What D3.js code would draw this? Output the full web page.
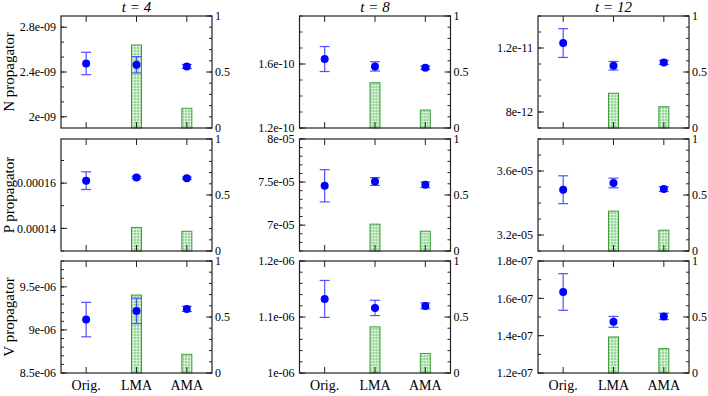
<!DOCTYPE html>
<html>
<head>
<meta charset="utf-8">
<script src="https://d3js.org/d3.v7.min.js"></script>
<style>
body { margin: 0; background: #fff; }
text { font-family: "Liberation Serif", "Times New Roman", serif; fill: #000; }
</style>
</head>
<body>
<div id="viz"></div>
<script>
var methods = ["Orig.", "LMA", "AMA"];
var times = [4, 8, 12];
var channels = ["N", "P", "V"];

// mean and error, one row per t (4, 8, 12)
var meanN = [[2.476e-9, 2.464e-9, 2.449e-9], [1.631e-10, 1.585e-10, 1.577e-10], [1.231e-11, 1.089e-11, 1.110e-11]];
var errN  = [[0.100e-9, 0.073e-9, 0.018e-9], [0.078e-10, 0.029e-10, 0.010e-10], [0.090e-11, 0.027e-11, 0.013e-11]];
var meanP = [[1.611e-4, 1.625e-4, 1.622e-4], [7.457e-5, 7.507e-5, 7.469e-5], [3.483e-5, 3.525e-5, 3.487e-5]];
var errP  = [[3.9e-6, 0.5e-6, 0.5e-6], [1.87e-6, 0.45e-6, 0.33e-6], [0.87e-6, 0.30e-6, 0.15e-6]];
var meanV = [[9.120e-6, 9.221e-6, 9.244e-6], [1.1323e-6, 1.1162e-6, 1.1198e-6], [1.634e-7, 1.474e-7, 1.503e-7]];
var errV  = [[0.200e-6, 0.148e-6, 0.030e-6], [0.033e-6, 0.0137e-6, 0.0054e-6], [0.098e-7, 0.029e-7, 0.017e-7]];

// ratio bars (right axis), no bar for Orig.
var barN = [[null, 0.741, 0.176], [null, 0.404, 0.160], [null, 0.310, 0.190]];
var barP = [[null, 0.210, 0.176], [null, 0.240, 0.177], [null, 0.356, 0.186]];
var barV = [[null, 0.696, 0.167], [null, 0.412, 0.174], [null, 0.322, 0.218]];

// left axis ranges
var domN = [[1.9e-9, 2.9e-9], [1.2e-10, 1.9e-10], [7e-12, 1.4e-11]];
var domP = [[1.3e-4, 1.795e-4], [6.7e-5, 8e-5], [3.1e-5, 3.8e-5]];
var domV = [[8.5e-6, 9.8e-6], [1e-6, 1.2e-6], [1.2e-7, 1.8e-7]];

// left axis major ticks and labels
var ticksN = [[2e-9, 2.4e-9, 2.8e-9], [1.2e-10, 1.6e-10], [8e-12, 1.2e-11]];
var labelsN = [["2e-09", "2.4e-09", "2.8e-09"], ["1.2e-10", "1.6e-10"], ["8e-12", "1.2e-11"]];
var ticksP = [[1.4e-4, 1.6e-4], [7e-5, 7.5e-5, 8e-5], [3.2e-5, 3.6e-5]];
var labelsP = [["0.00014", "0.00016"], ["7e-05", "7.5e-05", "8e-05"], ["3.2e-05", "3.6e-05"]];
var ticksV = [[8.5e-6, 9e-6, 9.5e-6], [1e-6, 1.1e-6, 1.2e-6], [1.2e-7, 1.4e-7, 1.6e-7, 1.8e-7]];
var labelsV = [["8.5e-06", "9e-06", "9.5e-06"], ["1e-06", "1.1e-06", "1.2e-06"], ["1.2e-07", "1.4e-07", "1.6e-07", "1.8e-07"]];
var minorN = [0.4e-9 / 3, 1e-11, 1e-12];
var minorP = [1e-5, 1e-6, 1e-6];
var minorV = [1e-7, 2e-8, 1e-8];

var rightTicks = [0, 0.5, 1];
var rightLabels = ["0", "0.5", "1"];

var rows = [
    {name: "N", mean: meanN, err: errN, bar: barN, dom: domN, ticks: ticksN, labels: labelsN, minor: minorN},
    {name: "P", mean: meanP, err: errP, bar: barP, dom: domP, ticks: ticksP, labels: labelsP, minor: minorP},
    {name: "V", mean: meanV, err: errV, bar: barV, dom: domV, ticks: ticksV, labels: labelsV, minor: minorV}
];

var width = 708,
    height = 396;

// panel frames
var colX = [61, 299.5, 538],
    rowY = [16, 139, 261],
    pw = 151,
    ph = 112;

var svg = d3.select("div#viz")
    .append("svg")
    .attr("width", width)
    .attr("height", height);

// green hatch for the bars
var pat = svg.append("defs").append("pattern")
    .attr("id", "hatch")
    .attr("patternUnits", "userSpaceOnUse")
    .attr("width", 3)
    .attr("height", 3);
pat.append("rect").attr("width", 3).attr("height", 3).attr("fill", "#9bd69b");
pat.append("path")
    .attr("d", "M0,0.5H3M0.5,0V3")
    .attr("stroke", "#fff")
    .attr("stroke-opacity", 0.5)
    .attr("stroke-width", 1);

var x = d3.scalePoint().domain(methods).range([0, pw]).padding(0.5);
var yr = d3.scaleLinear().domain([0, 1]).range([ph, 0]);

rows.forEach(function(row, ri) {
    times.forEach(function(t, ci) {
        var g = svg.append("g")
            .attr("transform", "translate(" + colX[ci] + "," + rowY[ri] + ")");

        var y = d3.scaleLinear().domain(row.dom[ci]).range([ph, 0]);

        // bars
        var bars = methods.map(function(m, i) { return {m: m, v: row.bar[ci][i]}; })
            .filter(function(d) { return d.v != null; });
        g.selectAll("rect.bar")
            .data(bars)
            .enter().append("rect")
            .attr("class", "bar")
            .attr("x", function(d) { return x(d.m) - 5; })
            .attr("y", function(d) { return yr(d.v); })
            .attr("width", 10)
            .attr("height", function(d) { return ph - yr(d.v); })
            .attr("fill", "url(#hatch)")
            .attr("stroke", "#3f9f3f")
            .attr("stroke-width", 1);

        // frame
        g.append("rect")
            .attr("width", pw)
            .attr("height", ph)
            .attr("fill", "none")
            .attr("stroke", "#222")
            .attr("stroke-width", 1.2);

        // left axis: minor + major ticks
        var m0 = row.ticks[ci][0],
            step = row.minor[ci],
            d0 = row.dom[ci][0],
            d1 = row.dom[ci][1];
        var minors = d3.range(Math.ceil((d0 - m0) / step - 1e-6), Math.floor((d1 - m0) / step + 1e-6) + 1)
            .map(function(k) { return m0 + k * step; });
        g.selectAll("line.lminor")
            .data(minors)
            .enter().append("line")
            .attr("x1", 0).attr("x2", 3)
            .attr("y1", function(d) { return y(d); })
            .attr("y2", function(d) { return y(d); })
            .attr("stroke", "#222");
        g.selectAll("line.lmajor")
            .data(row.ticks[ci])
            .enter().append("line")
            .attr("x1", 0).attr("x2", 6)
            .attr("y1", function(d) { return y(d); })
            .attr("y2", function(d) { return y(d); })
            .attr("stroke", "#222");
        g.selectAll("text.llab")
            .data(row.ticks[ci])
            .enter().append("text")
            .attr("x", -5)
            .attr("y", function(d) { return y(d); })
            .attr("dy", "0.35em")
            .attr("text-anchor", "end")
            .style("font-size", "12px")
            .text(function(d, i) { return row.labels[ci][i]; });

        // right axis
        g.selectAll("line.rminor")
            .data(d3.range(0, 11).map(function(k) { return k / 10; }))
            .enter().append("line")
            .attr("x1", pw).attr("x2", pw - 3)
            .attr("y1", function(d) { return yr(d); })
            .attr("y2", function(d) { return yr(d); })
            .attr("stroke", "#222");
        g.selectAll("line.rmajor")
            .data(rightTicks)
            .enter().append("line")
            .attr("x1", pw).attr("x2", pw - 6)
            .attr("y1", function(d) { return yr(d); })
            .attr("y2", function(d) { return yr(d); })
            .attr("stroke", "#222");
        g.selectAll("text.rlab")
            .data(rightTicks)
            .enter().append("text")
            .attr("x", pw + 3)
            .attr("y", function(d) { return yr(d); })
            .attr("dy", "0.35em")
            .style("font-size", "12px")
            .text(function(d, i) { return rightLabels[i]; });

        // category ticks top and bottom
        methods.forEach(function(m) {
            g.append("line")
                .attr("x1", x(m)).attr("x2", x(m))
                .attr("y1", 0).attr("y2", 6)
                .attr("stroke", "#222");
            g.append("line")
                .attr("x1", x(m)).attr("x2", x(m))
                .attr("y1", ph).attr("y2", ph - 6)
                .attr("stroke", "#222");
        });

        // error bars + points
        var pts = methods.map(function(m, i) {
            return {m: m, v: row.mean[ci][i], e: row.err[ci][i]};
        });
        var eb = g.selectAll("g.err")
            .data(pts)
            .enter().append("g")
            .attr("stroke", "#5050ff")
            .attr("stroke-width", 1.2);
        eb.append("line")
            .attr("x1", function(d) { return x(d.m); })
            .attr("x2", function(d) { return x(d.m); })
            .attr("y1", function(d) { return y(d.v - d.e); })
            .attr("y2", function(d) { return y(d.v + d.e); });
        eb.append("line")
            .attr("x1", function(d) { return x(d.m) - 5; })
            .attr("x2", function(d) { return x(d.m) + 5; })
            .attr("y1", function(d) { return y(d.v + d.e); })
            .attr("y2", function(d) { return y(d.v + d.e); });
        eb.append("line")
            .attr("x1", function(d) { return x(d.m) - 5; })
            .attr("x2", function(d) { return x(d.m) + 5; })
            .attr("y1", function(d) { return y(d.v - d.e); })
            .attr("y2", function(d) { return y(d.v - d.e); });
        g.selectAll("circle")
            .data(pts)
            .enter().append("circle")
            .attr("cx", function(d) { return x(d.m); })
            .attr("cy", function(d) { return y(d.v); })
            .attr("r", 4)
            .attr("fill", "#0000ff");

        // titles on top row, categories on bottom row
        if (ri == 0) {
            g.append("text")
                .attr("x", pw / 2)
                .attr("y", -4)
                .attr("text-anchor", "middle")
                .style("font-size", "15px")
                .style("font-style", "italic")
                .text("t = " + t);
        }
        if (ri == rows.length - 1) {
            g.selectAll("text.cat")
                .data(methods)
                .enter().append("text")
                .attr("x", function(d) { return x(d); })
                .attr("y", ph + 17)
                .attr("text-anchor", "middle")
                .style("font-size", "14px")
                .text(function(d) { return d; });
        }
        if (ci == 0) {
            g.append("text")
                .attr("transform", "translate(" + (14 - colX[0]) + "," + (ph / 2) + ") rotate(-90)")
                .attr("text-anchor", "middle")
                .style("font-size", "15px")
                .text(row.name + " propagator");
        }
    });
});
</script>
</body>
</html>
